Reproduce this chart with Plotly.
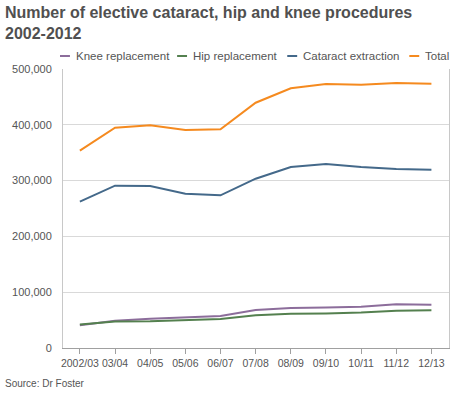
import plotly.graph_objects as go

years = ["2002/03", "03/04", "04/05", "05/06", "06/07", "07/08", "08/09", "09/10", "10/11", "11/12", "12/13"]
knee = [40700, 48900, 52500, 55500, 57300, 68100, 71700, 72500, 74000, 78300, 77600]
hip = [42000, 47500, 48000, 49500, 52000, 58600, 61500, 62000, 63500, 66800, 67500]
cataract = [262200, 290900, 290300, 276500, 273600, 303400, 324400, 329700, 324400, 320800, 319500]
total = [353600, 394800, 399000, 390700, 392000, 439600, 465400, 473000, 471900, 474900, 473700]

series = [
    ("Knee replacement", knee, "#8c6d9b"),
    ("Hip replacement", hip, "#54804f"),
    ("Cataract extraction", cataract, "#44698a"),
    ("Total", total, "#f58a1f"),
]

W, H = 464, 397
L, R, T, B = 60, 15, 69, 49
pw, ph = W - L - R, H - T - B

def px(x):
    return (x - L) / pw

def py(y):
    return (H - B - y) / ph

fig = go.Figure()
xs = list(range(len(years)))
for name, vals, col in series:
    fig.add_trace(go.Scatter(x=xs, y=vals, mode="lines", name=name,
                             line=dict(color=col, width=2), showlegend=False,
                             hoverinfo="skip"))

font = "Liberation Sans, Arial, sans-serif"

# compact legend (short line swatch + label)
legend_x = [57, 175, 286, 409]
shapes = []
annotations = []
for (name, vals, col), lx in zip(series, legend_x):
    shapes.append(dict(type="line", xref="paper", yref="paper",
                       x0=px(lx), x1=px(lx + 10), y0=py(56), y1=py(56),
                       line=dict(color=col, width=2)))
    annotations.append(dict(text=name, xref="paper", yref="paper",
                            x=px(lx + 14), xanchor="left", y=py(56), yanchor="middle",
                            showarrow=False, font=dict(size=11.5, color="#555555")))

annotations.append(dict(text="<b>Number of elective cataract, hip and knee procedures<br>2002-2012</b>",
                        xref="paper", yref="paper", x=px(0), xanchor="left",
                        y=py(2), yanchor="top", align="left", showarrow=False,
                        font=dict(size=16, color="#505050")))
annotations.append(dict(text="Source: Dr Foster", xref="paper", yref="paper",
                        x=px(0), xanchor="left", y=py(384), yanchor="middle",
                        showarrow=False, font=dict(size=10, color="#555555")))

fig.update_layout(
    width=W, height=H,
    margin=dict(l=L, r=R, t=T, b=B),
    paper_bgcolor="white", plot_bgcolor="white",
    font=dict(family=font, size=11, color="#555555"),
    showlegend=False,
    hovermode=False,
    xaxis=dict(range=[-0.48, 10.5], tickmode="array", tickvals=xs, ticktext=years,
               tickangle=0,
               showgrid=False, zeroline=False, showline=True, linecolor="#a0a0a0",
               linewidth=1, ticks="outside", ticklen=5, tickcolor="#a0a0a0",
               tickfont=dict(size=10.5, color="#555555"), fixedrange=True),
    yaxis=dict(range=[0, 500000], tickvals=[0, 100000, 200000, 300000, 400000, 500000],
               ticktext=["0", "100,000", "200,000", "300,000", "400,000", "500,000"],
               showgrid=True, gridcolor="#d9d9d9", zeroline=False, showline=True,
               linecolor="#c8c8c8", mirror=True, ticks="", ticklabelstandoff=8,
               tickfont=dict(size=11, color="#555555"), fixedrange=True),
    shapes=shapes,
    annotations=annotations,
)
fig.write_html("out.html", config={"displayModeBar": False, "staticPlot": True},
               post_script="document.body.style.margin='0';document.body.style.overflow='hidden';")
